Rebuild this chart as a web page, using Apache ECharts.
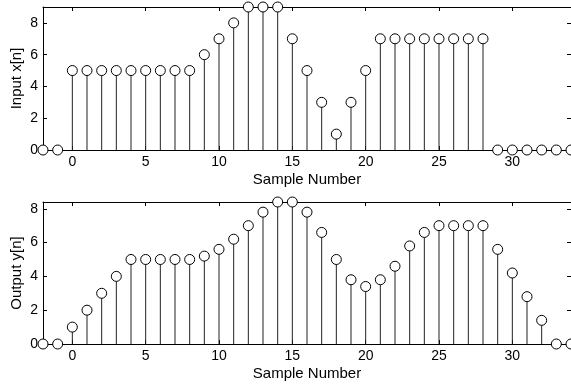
<!DOCTYPE html>
<html>
<head>
<meta charset="utf-8">
<script src="https://cdn.jsdelivr.net/npm/echarts@6/dist/echarts.min.js"></script>
<style>
  html, body { margin: 0; padding: 0; background: #fff; }
  #chart { width: 571px; height: 384px; }
</style>
</head>
<body>
<div id="chart"></div>
<script>
// sample index n
const samples = [-2, -1, 0, 1, 2, 3, 4, 5, 6, 7, 8, 9, 10, 11, 12, 13, 14, 15, 16, 17, 18,
  19, 20, 21, 22, 23, 24, 25, 26, 27, 28, 29, 30, 31, 32, 33, 34];
// input x[n]
const inputValues = [0, 0, 5, 5, 5, 5, 5, 5, 5, 5, 5, 6, 7, 8, 9, 9, 9, 7, 5, 3, 1,
  3, 5, 7, 7, 7, 7, 7, 7, 7, 7, 0, 0, 0, 0, 0, 0];
// output y[n]
const outputValues = [0, 0, 1, 2, 3, 4, 5, 5, 5, 5, 5, 5.2, 5.6, 6.2, 7, 7.8, 8.4, 8.4, 7.8, 6.6, 5,
  3.8, 3.4, 3.8, 4.6, 5.8, 6.6, 7, 7, 7, 7, 5.6, 4.2, 2.8, 1.4, 0, 0];
const xTicks = [0, 5, 10, 15, 20, 25, 30];
const yTicks = [0, 2, 4, 6, 8];

const font = 'Liberation Sans, Arial, Helvetica, sans-serif';

function pairs(vals) {
  return samples.map((n, i) => [n, vals[i]]);
}

function xAxes(grid) {
  const base = {
    gridIndex: grid, type: 'value', min: -2, max: 34,
    splitLine: { show: false },
    axisLine: { show: true, onZero: false, lineStyle: { color: '#000', width: 1 } },
    axisTick: { show: true, inside: true, length: 4, customValues: xTicks, lineStyle: { color: '#000' } }
  };
  return [
    Object.assign({}, base, {
      position: 'bottom',
      axisLabel: { customValues: xTicks, margin: 5, color: '#000', fontSize: 14, fontFamily: font },
      name: 'Sample Number', nameLocation: 'middle', nameGap: 22,
      nameTextStyle: { color: '#000', fontSize: 15, fontFamily: font }
    }),
    Object.assign({}, base, { position: 'top', axisLabel: { show: false } })
  ];
}

function yAxes(grid, max, name) {
  const base = {
    gridIndex: grid, type: 'value', min: 0, max: max,
    splitLine: { show: false },
    axisLine: { show: true, onZero: false, lineStyle: { color: '#000', width: 1 } },
    axisTick: { show: true, inside: true, length: 4, customValues: yTicks, lineStyle: { color: '#000' } }
  };
  return [
    Object.assign({}, base, {
      position: 'left',
      axisLabel: { customValues: yTicks, margin: 5, color: '#000', fontSize: 14, fontFamily: font },
      name: name, nameLocation: 'middle', nameGap: 19, nameMoveOverlap: false,
      nameTextStyle: { color: '#000', fontSize: 15, fontFamily: font }
    }),
    Object.assign({}, base, { position: 'right', axisLabel: { show: false } })
  ];
}

function stems(idx, vals) {
  return [
    {
      type: 'bar', xAxisIndex: idx * 2, yAxisIndex: idx * 2,
      data: pairs(vals), barWidth: 1, itemStyle: { color: '#222' },
      silent: true, z: 2
    },
    {
      type: 'scatter', xAxisIndex: idx * 2, yAxisIndex: idx * 2,
      data: pairs(vals), symbol: 'circle', symbolSize: 10, clip: false,
      itemStyle: { color: '#fff', borderColor: '#000', borderWidth: 1, opacity: 1 },
      silent: true, z: 3
    }
  ];
}

const option = {
  animation: false,
  backgroundColor: '#fff',
  grid: [
    { left: 43, top: 7, width: 528, height: 143, show: false, outerBoundsMode: 'none' },
    { left: 43, top: 202, width: 528, height: 142, show: false, outerBoundsMode: 'none' }
  ],
  xAxis: xAxes(0).concat(xAxes(1)),
  yAxis: yAxes(0, 9, 'Input x[n]').concat(yAxes(1, 8.4, 'Output y[n]')),
  series: stems(0, inputValues).concat(stems(1, outputValues))
};

const myChart = echarts.init(document.getElementById('chart'));
myChart.setOption(option);
</script>
</body>
</html>
